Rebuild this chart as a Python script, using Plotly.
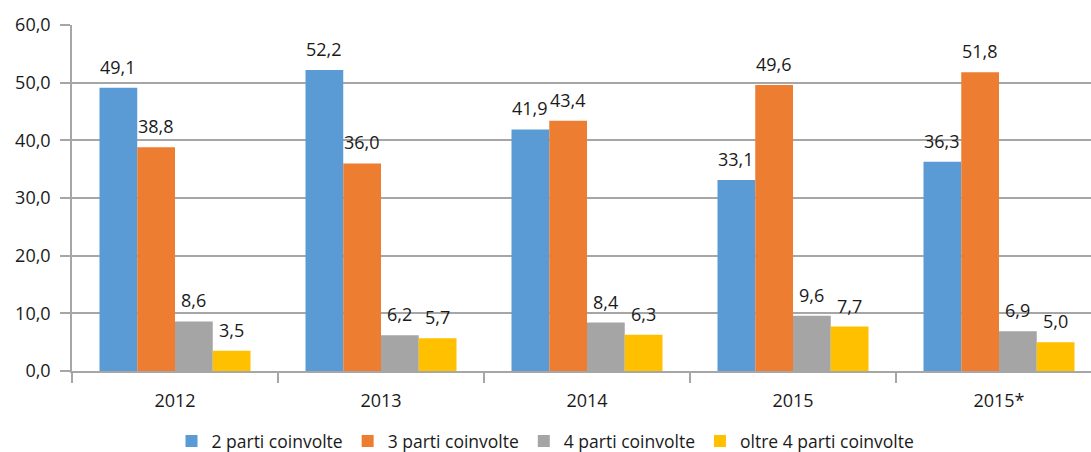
import plotly.graph_objects as go

categories = ["2012", "2013", "2014", "2015", "2015*"]
series_names = ["2 parti coinvolte", "3 parti coinvolte", "4 parti coinvolte", "oltre 4 parti coinvolte"]
vals_2 = [49.1, 52.2, 41.9, 33.1, 36.3]
vals_3 = [38.8, 36.0, 43.4, 49.6, 51.8]
vals_4 = [8.6, 6.2, 8.4, 9.6, 6.9]
vals_oltre = [3.5, 5.7, 6.3, 7.7, 5.0]
colors = ["#5B9BD5", "#ED7D31", "#A5A5A5", "#FFC000"]

FONT = "Open Sans"
TXT = "#1a1a1a"
GRID = "#A6A6A6"

W, H = 1091, 452
ML, MR, MT, MB = 72, 0, 25, 81
CAT_PX = 206.0
BARGAP = 0.267
n_series = 4
bar_px = CAT_PX * (1 - BARGAP) / n_series
x_hi = -0.5 + (W - ML - MR) / CAT_PX

fig = go.Figure()
all_vals = [vals_2, vals_3, vals_4, vals_oltre]
for name, vals, col in zip(series_names, all_vals, colors):
    fig.add_trace(go.Bar(
        x=categories, y=vals, name=name, marker_color=col, marker_line_width=0,
        hoverinfo="skip",
    ))

# value labels placed via annotations (category index + pixel offset for position in group)
for i, vals in enumerate(all_vals):
    off = (i - (n_series - 1) / 2) * bar_px
    for ci, v in enumerate(vals):
        fig.add_annotation(
            x=ci, y=v, xref="x", yref="y", text=f"{v:.1f}".replace(".", ","),
            showarrow=False, xanchor="center", yanchor="bottom",
            xshift=off, yshift=7,
            font=dict(family=FONT, size=18, color=TXT),
        )

fig.update_layout(
    width=W, height=H,
    margin=dict(l=ML, r=MR, t=MT, b=MB),
    paper_bgcolor="white", plot_bgcolor="white",
    separators=",.",
    barmode="group", bargap=BARGAP, bargroupgap=0,
    font=dict(family=FONT, size=18, color=TXT),
    showlegend=True,
    legend=dict(orientation="h", xref="container", x=0.5, xanchor="center",
                yref="container", y=1 - 441 / H, yanchor="middle",
                font=dict(family=FONT, size=17.5, color=TXT),
                itemwidth=30, tracegroupgap=0),
)
fig.update_yaxes(range=[0, 60], dtick=10, tickformat=".1f",
                 showgrid=True, gridcolor=GRID, gridwidth=1.5,
                 showline=True, linecolor=GRID, linewidth=1.5,
                 ticks="outside", ticklen=10, tickcolor=GRID, tickwidth=1.5,
                 ticklabelstandoff=6,
                 zeroline=False, tickfont=dict(family=FONT, size=18, color=TXT))
fig.update_xaxes(type="category", range=[-0.5, x_hi],
                 showline=True, linecolor=GRID, linewidth=1.5,
                 ticks="outside", tickson="boundaries", ticklen=10,
                 tickcolor=GRID, tickwidth=1.5, ticklabelstandoff=13,
                 tickfont=dict(family=FONT, size=18, color=TXT))

fig.write_html("out.html", config={"displayModeBar": False},
               post_script="document.body.style.margin='0';")
